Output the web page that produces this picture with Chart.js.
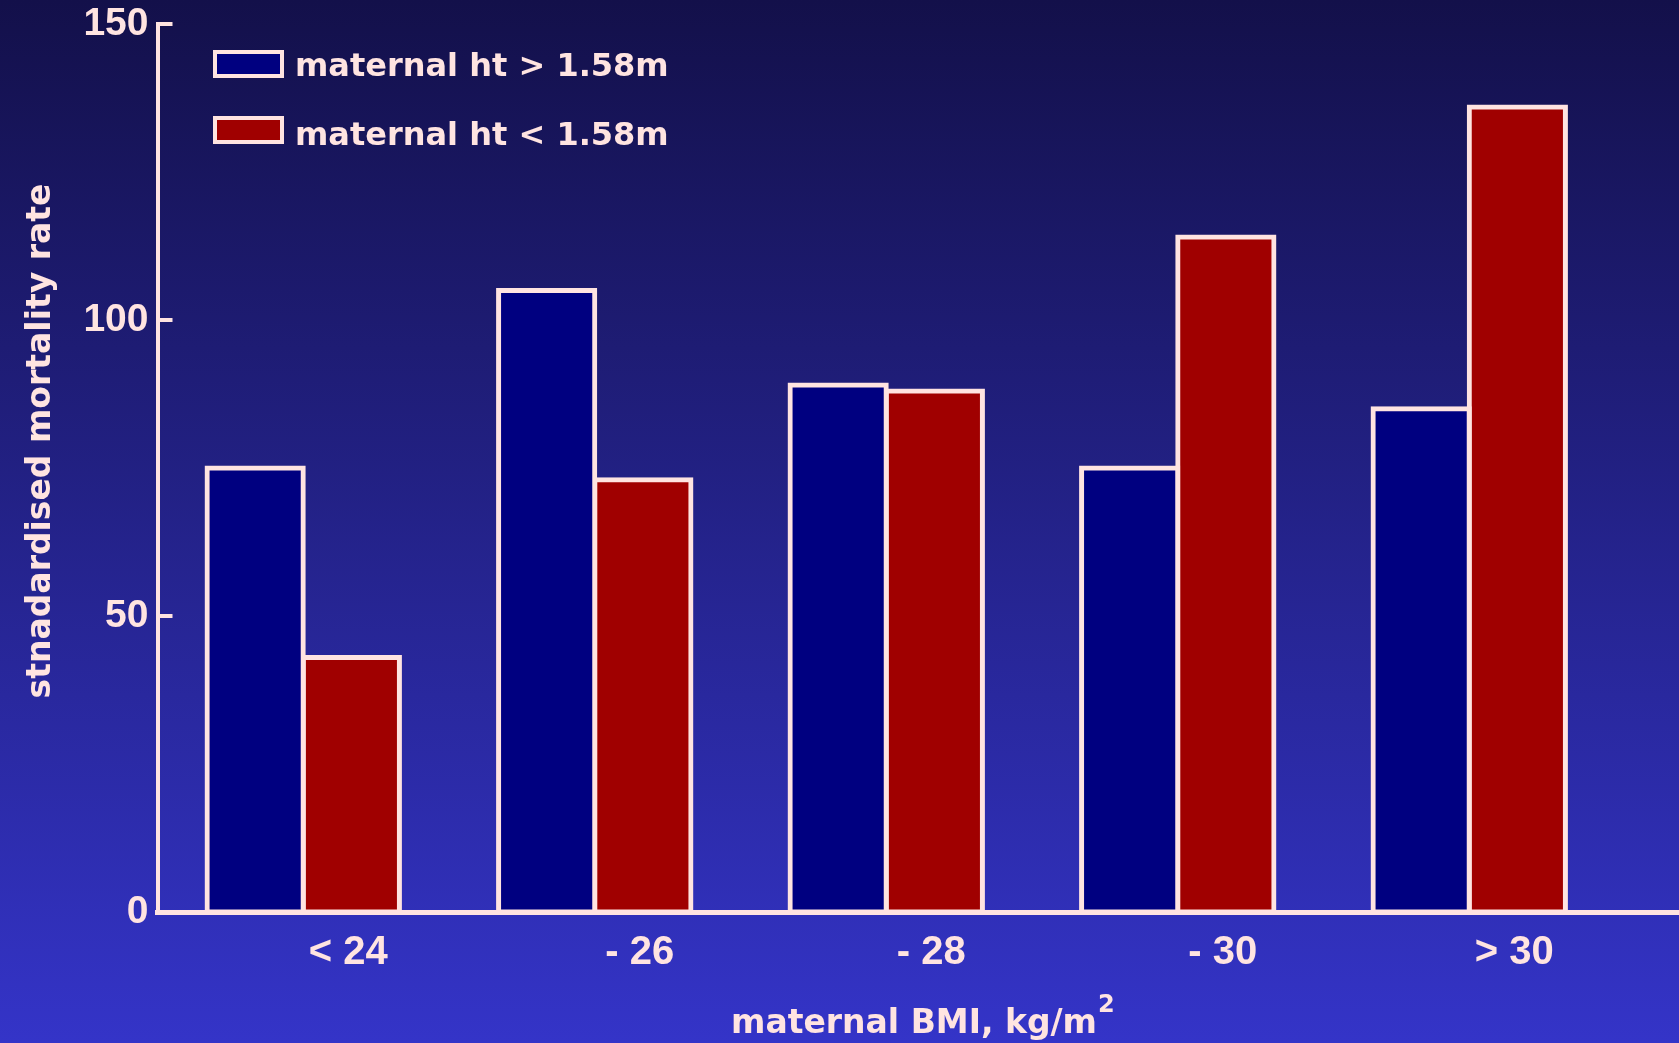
<!DOCTYPE html>
<html>
<head>
<meta charset="utf-8">
<title>Standardised mortality rate by maternal BMI and height</title>
<script src="https://cdn.jsdelivr.net/npm/chart.js@4/dist/chart.umd.min.js"></script>
<style>
  html, body { margin: 0; padding: 0; }
  body {
    width: 1679px; height: 1043px; overflow: hidden;
    background: linear-gradient(to bottom, #13104a 0%, #3434c8 100%);
  }
  #chart { display: block; }
</style>
</head>
<body>
<canvas id="chart" width="1679" height="1043"></canvas>
<script>
// BMI bands along the x axis
const categories = ['< 24', '- 26', '- 28', '- 30', '> 30'];
// standardised mortality rate, mothers taller than 1.58 m
const tallMothers = [75, 105, 89, 75, 85];
// standardised mortality rate, mothers shorter than 1.58 m
const shortMothers = [43, 73, 88, 114, 136];
const seriesLabels = ['maternal ht > 1.58m', 'maternal ht < 1.58m'];
const yTickValues = [0, 50, 100, 150];
const yTitle = 'stnadardised mortality rate';
const xTitle = 'maternal BMI, kg/m';
const xTitleSup = '2';

const ink = '#ffe4e1';
const sansBold = "'Liberation Sans', Arial, sans-serif";
const wideBold = "'DejaVu Sans', Verdana, sans-serif";
const xAxisWidth = 5;

// Axis extension, inward tick marks, rotated/superscripted titles and the legend
const decorations = {
  id: 'decorations',
  afterDatasetsDraw(chart) {
    const { ctx, chartArea, scales } = chart;
    const y = scales.y;
    ctx.save();
    ctx.strokeStyle = ink;
    ctx.fillStyle = ink;

    // x axis line, carried on to the right edge of the canvas
    const half = xAxisWidth / 2;
    const ay = Math.round(scales.x.top + half) - half;
    ctx.lineWidth = xAxisWidth;
    ctx.beginPath();
    ctx.moveTo(chartArea.left, ay);
    ctx.lineTo(chart.width, ay);
    ctx.stroke();

    // short ticks pointing into the plot
    ctx.lineWidth = 4;
    yTickValues.forEach(v => {
      const py = Math.round(y.getPixelForValue(v));
      ctx.beginPath();
      ctx.moveTo(chartArea.left, py);
      ctx.lineTo(chartArea.left + 15, py);
      ctx.stroke();
    });

    // y axis title
    ctx.save();
    ctx.translate(50, 441);
    ctx.rotate(-Math.PI / 2);
    ctx.font = 'bold 33px ' + wideBold;
    ctx.textAlign = 'center';
    ctx.textBaseline = 'alphabetic';
    ctx.fillText(yTitle, 0, 0);
    ctx.restore();

    // x axis title with superscript
    ctx.font = 'bold 33px ' + wideBold;
    ctx.textAlign = 'left';
    ctx.textBaseline = 'alphabetic';
    const tx = 731;
    ctx.fillText(xTitle, tx, 1033);
    const w = ctx.measureText(xTitle).width;
    ctx.font = 'bold 24px ' + wideBold;
    ctx.fillText(xTitleSup, tx + w + 1, 1012);

    // legend
    const boxTops = [50, 116];
    const baselines = [76, 145];
    chart.data.datasets.forEach((ds, i) => {
      const bx = 213, by = boxTops[i], bw = 71, bh = 28;
      ctx.fillStyle = ds.backgroundColor;
      ctx.fillRect(bx, by, bw, bh);
      ctx.strokeStyle = ink;
      ctx.lineWidth = 4;
      ctx.strokeRect(bx + 2, by + 2, bw - 4, bh - 4);
      ctx.fillStyle = ink;
      ctx.font = 'bold 32px ' + wideBold;
      ctx.textAlign = 'left';
      ctx.fillText(ds.label, 295, baselines[i]);
    });
    ctx.restore();
  }
};

// outline straddles the bar edge, so the bar is inflated by half the border width
const barStyle = {
  borderColor: ink,
  borderWidth: 5,
  borderSkipped: false,
  inflateAmount: 2.5,
  categoryPercentage: 0.66,
  barPercentage: 1.0
};

new Chart(document.getElementById('chart'), {
  type: 'bar',
  data: {
    labels: categories,
    datasets: [
      Object.assign({ label: seriesLabels[0], data: tallMothers, backgroundColor: '#000080' }, barStyle),
      Object.assign({ label: seriesLabels[1], data: shortMothers, backgroundColor: '#a00000' }, barStyle)
    ]
  },
  options: {
    responsive: false,
    animation: false,
    devicePixelRatio: 1,
    layout: { padding: { top: 24, right: 64, left: 0, bottom: 0 } },
    plugins: {
      legend: { display: false },
      tooltip: { enabled: false },
      title: { display: false }
    },
    scales: {
      x: {
        grid: { display: false, drawTicks: false },
        border: { display: true, color: ink, width: xAxisWidth },
        ticks: {
          color: ink,
          font: { family: sansBold, size: 40, weight: 'bold' },
          padding: 17,
          labelOffset: 45,
          maxRotation: 0
        },
        afterFit(scale) {
          scale.height = 131;
          scale.paddingLeft = 0;
          scale.paddingRight = 0;
        }
      },
      y: {
        min: 0,
        max: 150,
        grid: { display: false, drawTicks: false },
        border: { display: true, color: ink, width: 4 },
        afterBuildTicks(scale) {
          scale.ticks = yTickValues.map(v => ({ value: v }));
        },
        ticks: {
          color: ink,
          font: { family: sansBold, size: 39, weight: 'bold' },
          padding: 9
        },
        afterFit(scale) {
          scale.width = 157.5;
          scale.paddingTop = 0;
          scale.paddingBottom = 0;
        }
      }
    }
  },
  plugins: [decorations]
});
</script>
</body>
</html>
